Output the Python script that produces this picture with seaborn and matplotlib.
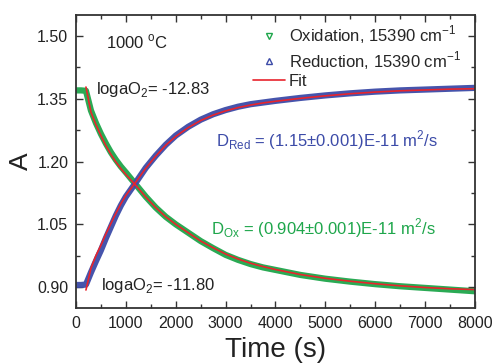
import pandas as pd
import matplotlib
matplotlib.use('Agg')
import matplotlib.pyplot as plt
from matplotlib.lines import Line2D
from matplotlib.ticker import MultipleLocator
import seaborn as sns

# values
time_s = [0, 100, 200, 300, 400, 500, 600, 700, 800, 900, 1000, 1200, 1400, 1600, 1800,
          2000, 2250, 2500, 2750, 3000, 3250, 3500, 3750, 4000, 4500, 5000, 5500, 6000,
          6500, 7000, 7500, 8000]
oxidation = [1.370, 1.370, 1.369, 1.322, 1.292, 1.266, 1.243, 1.222, 1.204, 1.188, 1.174,
             1.145, 1.116, 1.090, 1.068, 1.050, 1.030, 1.010, 0.993, 0.977, 0.965, 0.955,
             0.947, 0.941, 0.929, 0.920, 0.913, 0.907, 0.902, 0.898, 0.894, 0.890]
reduction = [0.905, 0.905, 0.906, 0.935, 0.962, 0.988, 1.017, 1.044, 1.071, 1.095, 1.116,
             1.150, 1.185, 1.214, 1.240, 1.262, 1.283, 1.300, 1.313, 1.323, 1.331, 1.337,
             1.341, 1.345, 1.352, 1.358, 1.363, 1.367, 1.370, 1.372, 1.374, 1.376]

fit_time = [200, 300, 400, 500, 600, 700, 800, 900, 1000, 1200, 1400, 1600, 1800, 2000,
            2250, 2500, 2750, 3000, 3250, 3500, 3750, 4000, 4500, 5000, 5500, 6000, 6500,
            7000, 7500, 8000]
fit_ox = [1.378, 1.318, 1.288, 1.262, 1.238, 1.217, 1.199, 1.183, 1.169, 1.143, 1.115,
          1.090, 1.068, 1.050, 1.030, 1.010, 0.994, 0.979, 0.967, 0.957, 0.949, 0.942,
          0.930, 0.921, 0.914, 0.908, 0.903, 0.899, 0.896, 0.894]
fit_red = [0.893, 0.945, 0.975, 1.000, 1.027, 1.052, 1.076, 1.099, 1.119, 1.151, 1.184,
           1.213, 1.239, 1.260, 1.281, 1.298, 1.311, 1.321, 1.329, 1.335, 1.340, 1.344,
           1.351, 1.357, 1.362, 1.366, 1.369, 1.371, 1.373, 1.374]

green = '#1ea64b'
blue = '#3c4ba8'
red = '#e8242c'

data = pd.DataFrame({'Time': time_s, 'Oxidation': oxidation, 'Reduction': reduction})
fits = pd.DataFrame({'Time': fit_time, 'FitOx': fit_ox, 'FitRed': fit_red})

sns.set_style('ticks')
plt.rcParams['font.family'] = ['Liberation Sans', 'DejaVu Sans']
plt.rcParams['mathtext.fontset'] = 'custom'
plt.rcParams['mathtext.rm'] = 'Liberation Sans'

fig = plt.figure(figsize=(4.95, 3.63), dpi=100)
ax = fig.add_axes([0.1535, 0.1515, 0.806, 0.807])

# dense measured points: drawn as thick bands
sns.lineplot(x='Time', y='Oxidation', data=data, ax=ax, color=green, linewidth=4.5, alpha=0.95)
sns.lineplot(x='Time', y='Reduction', data=data, ax=ax, color=blue, linewidth=4.5, alpha=0.95)
sns.lineplot(x='Time', y='FitOx', data=fits, ax=ax, color=red, linewidth=1.2)
sns.lineplot(x='Time', y='FitRed', data=fits, ax=ax, color=red, linewidth=1.2)

ax.set_xlim(0, 8000)
ax.set_ylim(0.85, 1.55)
ax.xaxis.set_major_locator(MultipleLocator(1000))
ax.xaxis.set_minor_locator(MultipleLocator(500))
ax.yaxis.set_minor_locator(MultipleLocator(0.075))
ax.set_yticks([0.90, 1.05, 1.20, 1.35, 1.50])
ax.set_yticklabels(['0.90', '1.05', '1.20', '1.35', '1.50'])
ax.tick_params(which='both', direction='in', top=True, right=True, labelsize=11.5,
               color='#333333', labelcolor='#222222', width=1.0)
ax.tick_params(which='major', length=5)
ax.tick_params(which='minor', length=3)
ax.tick_params(axis='x', pad=6)
ax.tick_params(axis='y', pad=5.5)
for s in ax.spines.values():
    s.set_linewidth(1.3)
    s.set_color('#333333')

ax.set_xlabel('Time (s)', fontsize=20, color='#222222', labelpad=4)
ax.set_ylabel('A', fontsize=19, color='#222222', labelpad=3)

ax.text(600, 1.486, '1000 $^{\\mathrm{o}}$C', fontsize=12, color='#222222', va='center')
ax.text(400, 1.371, 'logaO$_2$= -12.83', fontsize=12, color='#222222', va='center')
ax.text(500, 0.904, 'logaO$_2$= -11.80', fontsize=12, color='#222222', va='center')
ax.text(2810, 1.251, 'D$_{\\mathrm{Red}}$ = (1.15$\\pm$0.001)E-11 m$^2$/s', fontsize=12,
        color=blue, va='center')
ax.text(2710, 1.041, 'D$_{\\mathrm{Ox}}$ = (0.904$\\pm$0.001)E-11 m$^2$/s', fontsize=12,
        color=green, va='center')

handles = [
    Line2D([], [], linestyle='none', marker='v', markersize=4, markerfacecolor='none',
           markeredgecolor=green),
    Line2D([], [], linestyle='none', marker='^', markersize=4, markerfacecolor='none',
           markeredgecolor=blue),
    Line2D([], [], color=red, linewidth=1.2),
]
labels = ['Oxidation, 15390 cm$^{-1}$', 'Reduction, 15390 cm$^{-1}$', 'Fit']
ax.legend(handles, labels, loc='upper right', frameon=False, fontsize=12,
          handlelength=1.9, handletextpad=0.25, labelspacing=0.15,
          borderpad=0, borderaxespad=0, bbox_to_anchor=(0.965, 0.97))

fig.savefig('out.png', dpi=100)
